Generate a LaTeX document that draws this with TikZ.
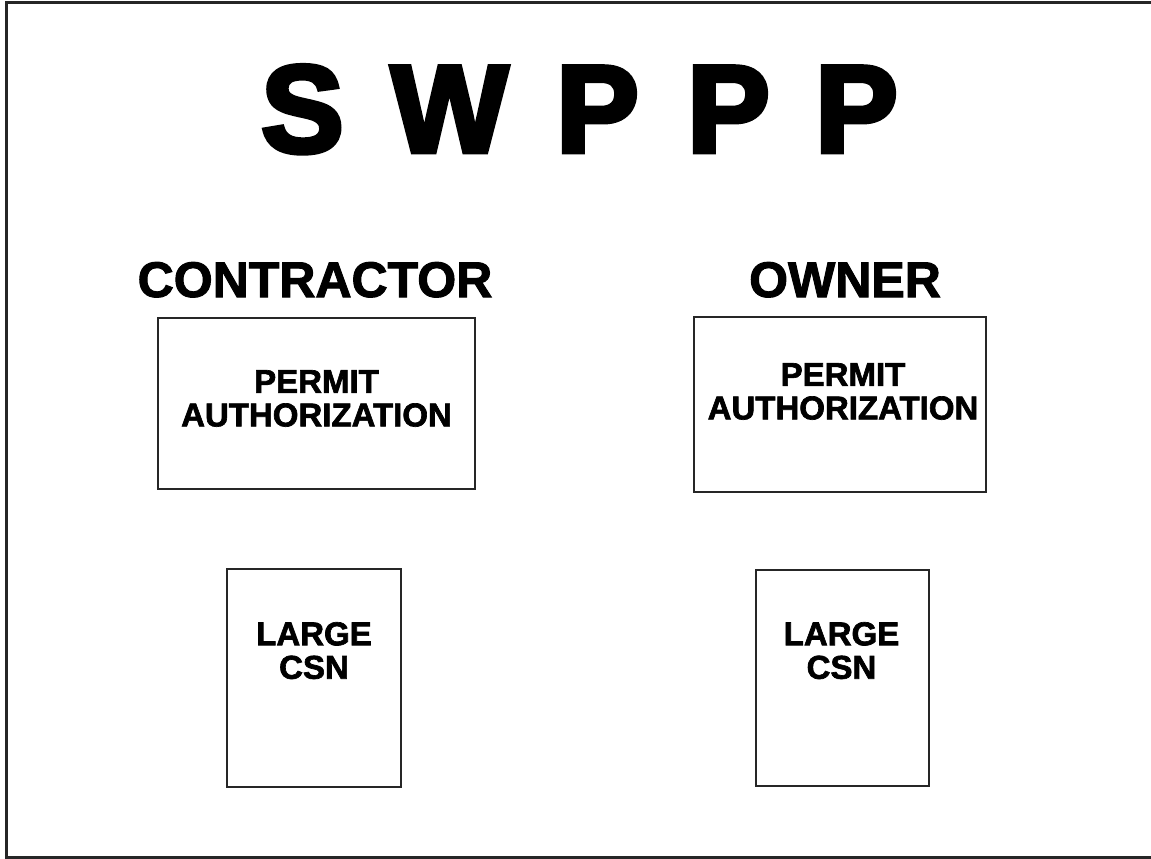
\documentclass[tikz,border=0pt]{standalone}
\usepackage{fontspec}
\setmainfont{Liberation Sans}
\newfontfamily\titlefont[FakeBold=4]{Liberation Sans Bold}
\newfontfamily\labelfont[FakeBold=2]{Liberation Sans Bold}
\usepackage{tikz}
\usetikzlibrary{positioning}

\tikzset{
	docbox/.style={draw=black!85,line width=1.8pt,inner sep=0pt,outer sep=0pt},
	heading/.style={anchor=base,inner sep=0pt,font=\labelfont\fontsize{50}{50}\selectfont},
	boxtext/.style={anchor=north,inner sep=0pt,align=center,font=\labelfont\fontsize{33}{33.5}\selectfont},
}

\begin{document}
\begin{tikzpicture}[x=1pt,y=-1pt]
	\useasboundingbox[fill=white] (0,0) rectangle (1151,859);
	\draw[line width=3pt,black!85] (6,3) rectangle (1153,857);

	% title letters, spaced out by hand
	\foreach \x/\l [count=\i] in {302.5/S,449.5/W,597.5/P,728.5/P,856.5/P}
		\node[anchor=base,inner sep=0pt,font=\titlefont\fontsize{124}{124}\selectfont] (t\i) at (\x,152) {\l};

	% two columns
	\node[heading] (contractor) at (315,297) {CONTRACTOR};
	\node[heading] (owner) at (845,297) {OWNER};

	\node[docbox,minimum width=317pt,minimum height=171pt] (cpermit) at (316.5,403.5) {};
	\node[docbox,minimum width=292pt,minimum height=175pt] (opermit) at (840,404.5) {};
	\node[docbox,minimum width=174pt,minimum height=218pt] (ccsn) at (314,678) {};
	\node[docbox,minimum width=173pt,minimum height=216pt] (ocsn) at (842.5,678) {};

	\node[boxtext,below=52pt of cpermit.north] (cpermittxt) {PERMIT\\AUTHORIZATION};
	\node[boxtext,below=46pt of opermit.north,xshift=3pt] (opermittxt) {PERMIT\\AUTHORIZATION};
	\node[boxtext,below=53pt of ccsn.north] (ccsntxt) {LARGE\\CSN};
	\node[boxtext,below=52pt of ocsn.north,xshift=-1pt] (ocsntxt) {LARGE\\CSN};
\end{tikzpicture}
\end{document}
